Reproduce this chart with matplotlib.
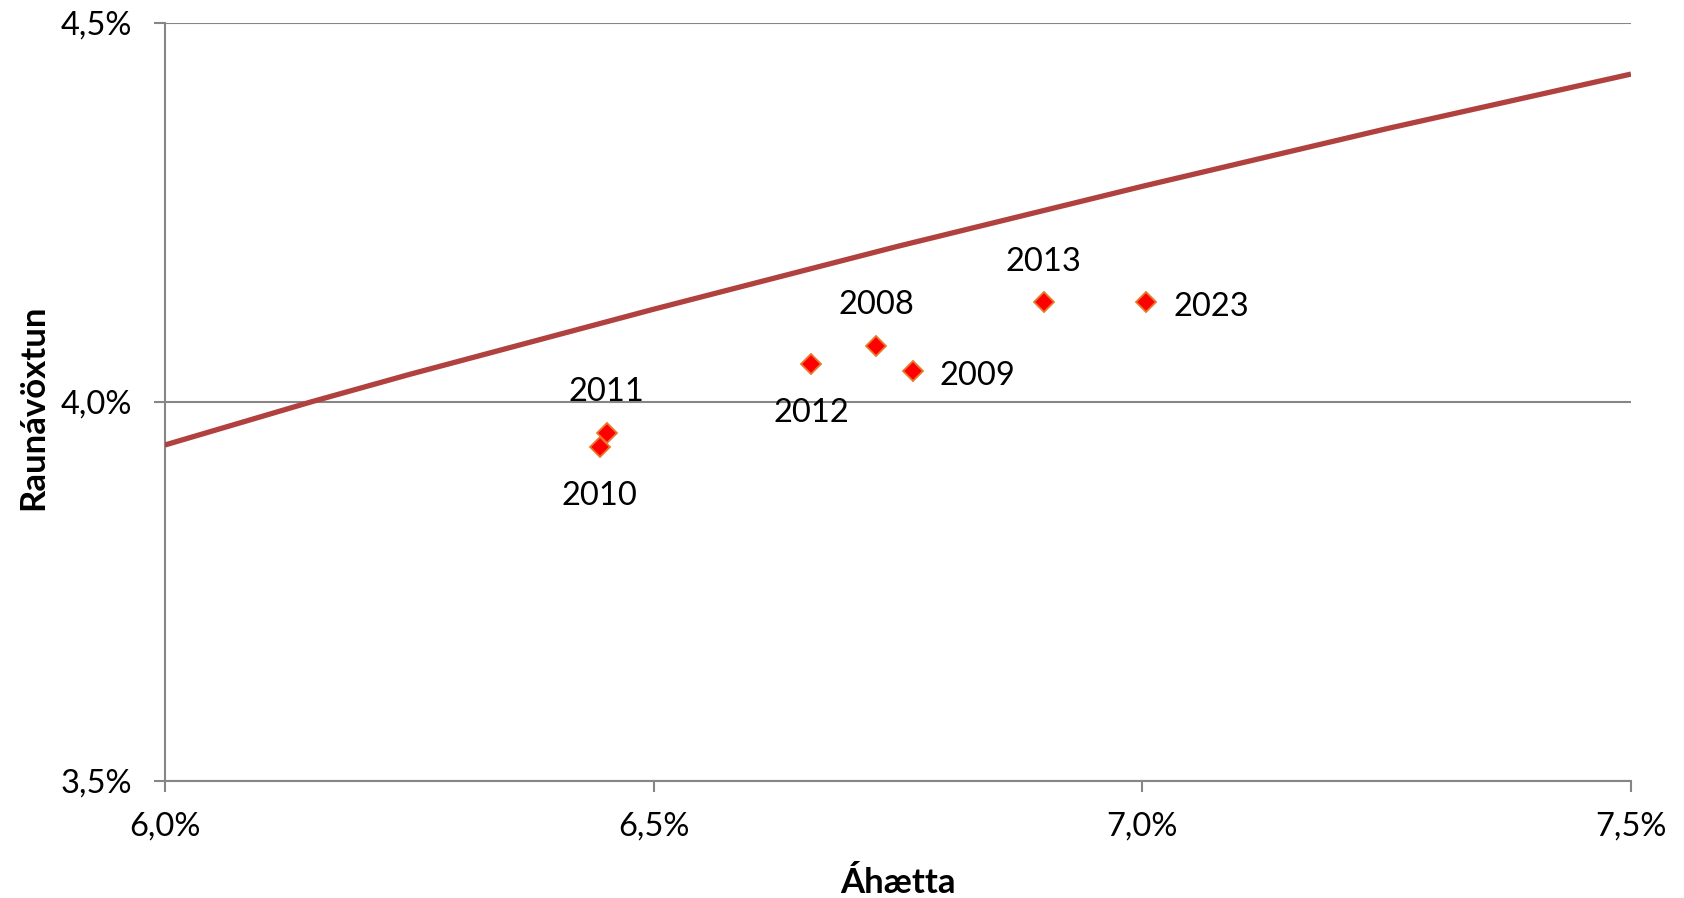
import matplotlib
matplotlib.use("Agg")
import matplotlib.pyplot as plt
from matplotlib.ticker import FuncFormatter, FixedLocator

# ---- data ----
years = ["2010", "2011", "2012", "2008", "2009", "2013", "2023"]
risk = [6.445, 6.452, 6.661, 6.728, 6.765, 6.899, 7.004]
real_return = [3.941, 3.959, 4.050, 4.074, 4.041, 4.131, 4.131]

frontier_risk = [6.0, 6.15, 6.25, 6.5, 6.75, 7.0, 7.25, 7.5]
frontier_return = [3.943, 4.000, 4.036, 4.122, 4.205, 4.284, 4.360, 4.432]

x_ticks = [6.0, 6.5, 7.0, 7.5]
y_ticks = [3.5, 4.0, 4.5]

label_side = {"2010": "below", "2011": "above", "2012": "below", "2008": "above",
              "2009": "right", "2013": "above", "2023": "right"}

FONT = ["Lato", "DejaVu Sans"]
plt.rcParams["font.family"] = FONT

fig = plt.figure(figsize=(16.84, 8.98), dpi=100)
ax = fig.add_axes([165 / 1684, 1 - 781 / 898, (1631 - 165) / 1684, (781 - 22.5) / 898])

grey = "#868686"
ax.plot(frontier_risk, frontier_return, color="#B0413E", lw=3.8, zorder=3,
        solid_capstyle="butt", solid_joinstyle="round", clip_on=True)
ax.plot(risk, real_return, linestyle="none", marker="D", markersize=10,
        markerfacecolor="#FF0000", markeredgecolor="#E8792A", markeredgewidth=1.3, zorder=4)

offsets = {"above": ((0, 31.5), "center"), "below": ((0, -58), "center"),
           "right": ((27, -14), "left")}
for yr, xv, yv in zip(years, risk, real_return):
    off, ha = offsets[label_side[yr]]
    ax.annotate(yr, (xv, yv), xytext=off, textcoords="offset pixels",
                ha=ha, va="baseline", fontsize=23.5, color="black", zorder=5)

ax.set_xlim(6.0, 7.5)
ax.set_ylim(3.5, 4.5)
ax.xaxis.set_major_locator(FixedLocator(x_ticks))
ax.yaxis.set_major_locator(FixedLocator(y_ticks))
fmt = FuncFormatter(lambda v, p: f"{v:.1f}%".replace(".", ","))
ax.xaxis.set_major_formatter(fmt)
ax.yaxis.set_major_formatter(fmt)

for s in ["top", "right"]:
    ax.spines[s].set_visible(False)
for s in ["left", "bottom"]:
    ax.spines[s].set_color(grey)
    ax.spines[s].set_linewidth(1.5)

ax.grid(axis="y", color=grey, lw=1.5, zorder=1)
ax.set_axisbelow(True)
ax.tick_params(axis="both", colors=grey, length=8, width=1.5, direction="out",
               labelsize=23.5, labelcolor="black")
ax.tick_params(axis="y", pad=16)
ax.tick_params(axis="x", pad=14)

ax.set_xlabel("Áhætta", fontsize=25, fontweight="bold")
ax.set_ylabel("Raunávöxtun", fontsize=25, fontweight="bold")
ax.xaxis.label.set_va("center")
ax.yaxis.label.set_va("center")
ax.xaxis.set_label_coords(0.5, -(883 - 781) / 758.5)
ax.yaxis.set_label_coords(-(165 - 33) / 1466, 0.493)

fig.savefig("out.png", dpi=100, facecolor="white")
